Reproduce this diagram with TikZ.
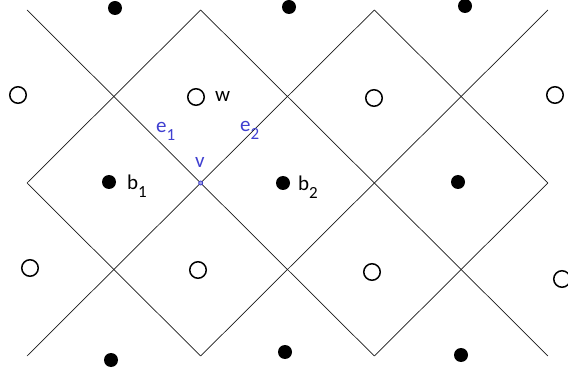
\documentclass[tikz,border=0pt]{standalone}
\usepackage{fontspec}
\setmainfont{Carlito}
\usepackage{xcolor}
\usepackage{tikz}
\usetikzlibrary{positioning}
\definecolor{lblue}{RGB}{64,64,208}
\newcommand{\lsub}[1]{\raisebox{-8pt}{\fontsize{17}{17}\selectfont #1}}

\begin{document}
\begin{tikzpicture}[x=1pt, y=-1pt,
    grid/.style={draw=black!90, line width=0.7pt},
    bvert/.style={circle, fill=black, inner sep=0pt, minimum size=14pt},
    wvert/.style={circle, draw=black, line width=1.5pt, fill=white, inner sep=0pt, minimum size=16.5pt},
    vdot/.style={circle, draw=lblue, fill=lblue!50, line width=0.8pt, inner sep=0pt, minimum size=4pt},
    lab/.style={anchor=base west, inner sep=0pt, font=\fontsize{21}{21}\selectfont},
    blab/.style={lab, text=lblue}
]
\useasboundingbox (0,0) rectangle (568,374);
% corners of the diamonds
\foreach \i in {0,...,6}
  \foreach \j in {0,...,4}
    \coordinate (p\i\j) at ({27+86.83*\i},{10+86.5*\j});

% lines going down to the right
\draw[grid] (p00) -- (p44);
\draw[grid] (p20) -- (p64);
\draw[grid] (p02) -- (p24);
\draw[grid] (p40) -- (p62);
% lines going up to the right
\draw[grid] (p02) -- (p20);
\draw[grid] (p04) -- (p40);
\draw[grid] (p24) -- (p60);
\draw[grid] (p44) -- (p62);

% black vertices
\node[bvert] (b01) at (115,8) {};
\node[bvert] (b02) at (289,7) {};
\node[bvert] (b03) at (465,6) {};
\node[bvert] (b1) at (109,182) {};
\node[bvert] (b2) at (283,183) {};
\node[bvert] (b23) at (458,182) {};
\node[bvert] (b31) at (111,360) {};
\node[bvert] (b32) at (285,352) {};
\node[bvert] (b33) at (461,355) {};

% white vertices
\node[wvert] (w11) at (18,95) {};
\node[wvert] (w) at (196,97) {};
\node[wvert] (w13) at (374,98) {};
\node[wvert] (w14) at (555,95) {};
\node[wvert] (w21) at (30,268) {};
\node[wvert] (w22) at (198,270) {};
\node[wvert] (w23) at (372,272) {};
\node[wvert] (w24) at (562,279) {};

% the vertex v and labels
\node[vdot] (v) at (p22) {};
\node[lab] (lw) at (215,102) {w};
\node[lab] (lb1) at (127,190) {b\lsub{1}};
\node[lab] (lb2) at (298,191) {b\lsub{2}};
\node[blab] (le1) at (156,133) {e\lsub{1}};
\node[blab] (le2) at (240,132) {e\lsub{2}};
\node[blab] (lv) at (195,168) {v};
\end{tikzpicture}
\end{document}
